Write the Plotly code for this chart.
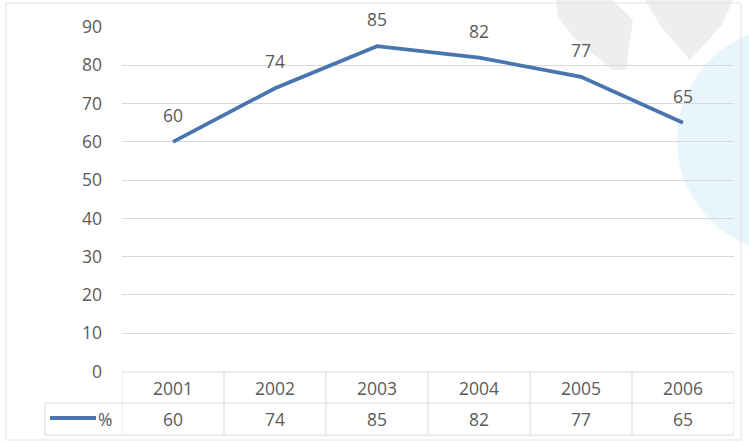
import plotly.graph_objects as go

years = ["2001", "2002", "2003", "2004", "2005", "2006"]
values = [60, 74, 85, 82, 77, 65]
series_name = "%"
y_ticks = [0, 10, 20, 30, 40, 50, 60, 70, 80, 90]

W, H = 749, 444
FONT = "Open Sans"
FS = 17.5
TXT = "#5a5a5a"
GRID = "#d9d9d9"
BLUE = "#4a76b0"


def px(x):
    return x / W


def py(y):
    return 1 - y / H


x_idx = list(range(len(years)))

fig = go.Figure()
fig.add_trace(go.Scatter(
    x=x_idx, y=values, mode="lines",
    line=dict(color=BLUE, width=3.8),
    hoverinfo="skip", showlegend=False, cliponaxis=False,
))

shapes = []
# watermark decorations (behind)
shapes.append(dict(type="circle", xref="paper", yref="paper", layer="below",
                   x0=px(677), x1=px(903), y0=py(253), y1=py(27),
                   fillcolor="#e9f5fc", line=dict(width=0)))
shapes.append(dict(type="path", xref="paper", yref="paper", layer="below",
                   path="M {} {} L {} {} L {} {} L {} {} L {} {} L {} {} L {} {} Z".format(
                       px(556), py(0), px(612), py(0), px(633), py(20), px(626), py(70),
                       px(612), py(70), px(572), py(36), px(558), py(16)),
                   fillcolor="#eeeeee", line=dict(width=0)))
shapes.append(dict(type="path", xref="paper", yref="paper", layer="below",
                   path="M {} {} L {} {} L {} {} L {} {} L {} {} Z".format(
                       px(645), py(0), px(733), py(0), px(722), py(25), px(690), py(60),
                       px(662), py(28)),
                   fillcolor="#eeeeee", line=dict(width=0)))
# outer frame
shapes.append(dict(type="rect", xref="paper", yref="paper", layer="below",
                   x0=px(6), x1=px(741), y0=py(440), y1=py(3),
                   line=dict(color="#e3e3e3", width=1)))

# data table lines
t_top, t_mid, t_bot = py(372), py(403), py(435)
n = len(years)
line_style = dict(color=GRID, width=1)
shapes.append(dict(type="line", xref="x", yref="paper", x0=-0.5, x1=n - 0.5,
                   y0=t_top, y1=t_top, line=line_style))
shapes.append(dict(type="line", xref="paper", yref="paper", x0=px(45), x1=px(734),
                   y0=t_mid, y1=t_mid, line=line_style))
shapes.append(dict(type="line", xref="paper", yref="paper", x0=px(45), x1=px(734),
                   y0=t_bot, y1=t_bot, line=line_style))
shapes.append(dict(type="line", xref="paper", yref="paper", x0=px(45), x1=px(45),
                   y0=t_mid, y1=t_bot, line=line_style))
for i in range(n + 1):
    shapes.append(dict(type="line", xref="x", yref="paper", x0=i - 0.5, x1=i - 0.5,
                       y0=t_top, y1=t_bot, line=line_style))
# legend key line
shapes.append(dict(type="line", xref="paper", yref="paper", x0=px(50), x1=px(96),
                   y0=py(418), y1=py(418), line=dict(color=BLUE, width=3.8)))

font = dict(family=FONT, size=FS, color=TXT)
annotations = []
for i, (yr, v) in enumerate(zip(years, values)):
    annotations.append(dict(x=i, y=v, xref="x", yref="y", text=str(v), showarrow=False,
                            yshift=27, font=font))
    annotations.append(dict(x=i, y=(t_top + t_mid) / 2, xref="x", yref="paper", text=yr,
                            showarrow=False, yanchor="middle", font=font))
    annotations.append(dict(x=i, y=(t_mid + t_bot) / 2, xref="x", yref="paper", text=str(v),
                            showarrow=False, yanchor="middle", font=font))
annotations.append(dict(x=px(96), y=(t_mid + t_bot) / 2, xref="paper", yref="paper",
                        text=series_name, showarrow=False, xanchor="left", yanchor="middle",
                        font=font))

fig.update_layout(
    width=W, height=H,
    margin=dict(l=0, r=0, t=0, b=0, autoexpand=False),
    paper_bgcolor="white", plot_bgcolor="rgba(0,0,0,0)",
    showlegend=False,
    xaxis=dict(domain=[px(122), px(734)], range=[-0.5, n - 0.5], automargin=False,
               showgrid=False, zeroline=False, showticklabels=False, showline=False,
               fixedrange=True),
    yaxis=dict(domain=[py(371.5), py(27)], range=[0, 90], tickvals=y_ticks,
               automargin=False,
               showgrid=True, gridcolor=GRID, gridwidth=1, zeroline=False,
               showline=False, ticks="", ticklabelstandoff=19,
               tickfont=font, fixedrange=True),
    shapes=shapes,
    annotations=annotations,
)

fig.write_html(
    "out.html",
    config={"displayModeBar": False},
    post_script="document.body.style.margin='0';document.body.style.overflow='hidden';",
)
